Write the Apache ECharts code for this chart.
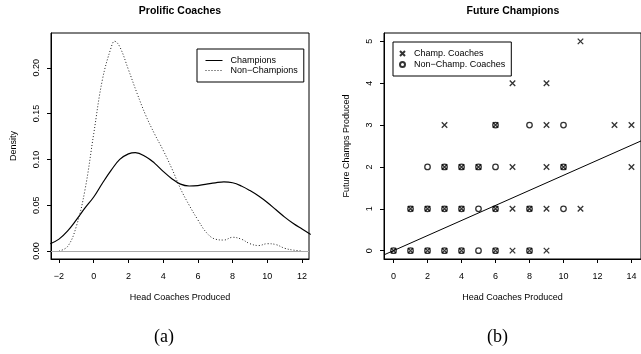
<!DOCTYPE html>
<html>
<head>
<meta charset="utf-8">
<script src="https://cdn.jsdelivr.net/npm/echarts@6/dist/echarts.min.js"></script>
<style>html,body{margin:0;padding:0;background:#fff}#c{width:641px;height:354px}</style>
</head>
<body>
<div id="c"></div>
<script>
// ---- Panel (a): kernel density estimates ----
const densChampX = [-2.5,-2,-1.5,-1,-0.5,0,0.5,1,1.5,2,2.4,3,3.5,4,4.5,5,5.5,6,6.5,7,7.5,8,8.5,9,9.5,10,10.5,11,11.5,12,12.5];
const densChampY = [0.008,0.013,0.022,0.034,0.047,0.059,0.074,0.088,0.100,0.106,0.1075,0.103,0.096,0.087,0.079,0.073,0.071,0.0715,0.073,0.0745,0.0755,0.0745,0.071,0.066,0.060,0.053,0.045,0.037,0.030,0.024,0.018];
const densNonX = [-2,-1.5,-1,-0.5,0,0.5,1,1.2,1.5,2,2.5,3,3.5,4,4.5,5,5.5,6,6.5,7,7.5,8,8.5,9,9.5,10,10.5,11,11.5,12];
const densNonY = [0.000,0.005,0.027,0.067,0.128,0.187,0.222,0.229,0.223,0.198,0.172,0.148,0.128,0.110,0.090,0.068,0.050,0.034,0.020,0.013,0.012,0.015,0.013,0.008,0.006,0.008,0.007,0.003,0.001,0.000];
const densXTicks = [-2,0,2,4,6,8,10,12];
const densYTicks = [0,0.05,0.10,0.15,0.20];

// ---- Panel (b): coaches scatter ----
const champCoachX = [0,1,2,3,4,6,7,8,9, 1,2,3,4,6,7,8,9,11, 3,4,5,7,9,10,14, 3,6,9,13,14, 7,9, 11];
const champCoachY = [0,0,0,0,0,0,0,0,0, 1,1,1,1,1,1,1,1,1, 2,2,2,2,2,2,2, 3,3,3,3,3, 4,4, 5];
const nonChampCoachX = [0,1,2,3,4,5,6,8, 1,2,3,4,5,6,8,10, 2,3,4,5,6,10, 6,8,10];
const nonChampCoachY = [0,0,0,0,0,0,0,0, 1,1,1,1,1,1,1,1, 2,2,2,2,2,2, 3,3,3];
const regCoef = [0, 0.18]; // intercept, slope
const scatXTicks = [0,2,4,6,8,10,12,14];
const scatYTicks = [0,1,2,3,4,5];

const FONT = 'Liberation Sans';
const zip = (xs, ys) => xs.map((x, i) => [x, ys[i]]);
const fmtMinus = v => String(v).replace('-', '\u2212');

const ax = {
  xA: [-2.46, 12.40], yA: [-0.0087, 0.238],
  xB: [-0.56, 14.56], yB: [-0.2, 5.2]
};

function xAxisCfg(gi, range, ticks) {
  return {
    type: 'value', gridIndex: gi, min: range[0], max: range[1],
    name: 'Head Coaches Produced', nameLocation: 'middle', nameGap: 34,
    nameTextStyle: {fontFamily: FONT, fontSize: 9, color: '#000'},
    axisLine: {show: true, onZero: false, lineStyle: {color: '#000', width: 1}},
    axisTick: {show: true, length: 4, customValues: ticks, lineStyle: {color: '#000'}},
    axisLabel: {show: true, customValues: ticks, margin: 13, fontFamily: FONT, fontSize: 9, color: '#000', formatter: fmtMinus},
    splitLine: {show: false}
  };
}
function yAxisCfg(gi, range, ticks, name, fmt) {
  return {
    type: 'value', gridIndex: gi, min: range[0], max: range[1],
    name: name, nameLocation: 'middle', nameGap: 33, nameRotate: 90,
    nameTextStyle: {fontFamily: FONT, fontSize: 9, color: '#000'},
    axisLine: {show: true, onZero: false, lineStyle: {color: '#000', width: 1}},
    axisTick: {show: true, length: 4, customValues: ticks, lineStyle: {color: '#000'}},
    axisLabel: {show: true, customValues: ticks, rotate: 90, margin: 10, fontFamily: FONT, fontSize: 9, color: '#000', formatter: fmt},
    splitLine: {show: false}
  };
}

const crossPath = 'path://M0,0L10,10M10,0L0,10';
const regLine = [ax.xB[0], ax.xB[1]].map(x => [x, regCoef[0] + regCoef[1] * x]);

const chart = echarts.init(document.getElementById('c'), null, {renderer: 'canvas'});
chart.setOption({
  animation: false,
  backgroundColor: '#fff',
  title: [
    {text: 'Prolific Coaches', left: 180, top: 6, textAlign: 'center', padding: 0,
     textStyle: {fontFamily: FONT, fontSize: 10.5, fontWeight: 'bold', color: '#000'}},
    {text: 'Future Champions', left: 513, top: 6, textAlign: 'center', padding: 0,
     textStyle: {fontFamily: FONT, fontSize: 10.5, fontWeight: 'bold', color: '#000'}}
  ],
  grid: [
    {left: 51, top: 33, width: 258, height: 226, show: true, borderColor: '#000', borderWidth: 1, containLabel: false},
    {left: 384, top: 33, width: 259, height: 226, show: true, borderColor: '#000', borderWidth: 1, containLabel: false}
  ],
  xAxis: [xAxisCfg(0, ax.xA, densXTicks), xAxisCfg(1, ax.xB, scatXTicks)],
  yAxis: [
    yAxisCfg(0, ax.yA, densYTicks, 'Density', v => v.toFixed(2)),
    yAxisCfg(1, ax.yB, scatYTicks, 'Future Champs Produced', v => String(v))
  ],
  legend: [
    {left: 197, top: 49, orient: 'vertical', padding: [7, 6, 7, 8], itemGap: 1,
     itemWidth: 17, itemHeight: 8, borderColor: '#000', borderWidth: 1,
     itemStyle: {opacity: 0}, lineStyle: {width: 1},
     textStyle: {fontFamily: FONT, fontSize: 9, color: '#000', padding: [0, 0, 0, 3]},
     data: ['Champions', 'Non\u2212Champions']},
    {left: 393, top: 42, orient: 'vertical', padding: [7, 6, 7, 6], itemGap: 2,
     itemWidth: 5, itemHeight: 5, borderColor: '#000', borderWidth: 1,
     textStyle: {fontFamily: FONT, fontSize: 9, color: '#000', padding: [0, 0, 0, 4]},
     data: ['Champ. Coaches', 'Non\u2212Champ. Coaches']}
  ],
  series: [
    {name: 'Champions', type: 'line', xAxisIndex: 0, yAxisIndex: 0, data: zip(densChampX, densChampY),
     smooth: 0.4, showSymbol: false, symbol: 'none', clip: true,
     lineStyle: {color: '#000', width: 1.2, type: 'solid'}, itemStyle: {color: '#000'},
     markLine: {silent: true, symbol: 'none', label: {show: false},
       lineStyle: {color: '#aaa', width: 1, type: 'solid'}, data: [{yAxis: 0}]}},
    {name: 'Non\u2212Champions', type: 'line', xAxisIndex: 0, yAxisIndex: 0, data: zip(densNonX, densNonY),
     smooth: 0.4, showSymbol: false, symbol: 'none', clip: true,
     lineStyle: {color: '#222', width: 1, type: [1, 2]}, itemStyle: {color: '#222'}},
    {name: 'Champ. Coaches', type: 'scatter', xAxisIndex: 1, yAxisIndex: 1, data: zip(champCoachX, champCoachY),
     symbol: crossPath, symbolSize: 5.5,
     itemStyle: {color: 'transparent', borderColor: '#000', borderWidth: 1.3}},
    {name: 'Non\u2212Champ. Coaches', type: 'scatter', xAxisIndex: 1, yAxisIndex: 1, data: zip(nonChampCoachX, nonChampCoachY),
     symbol: 'circle', symbolSize: 5.5,
     itemStyle: {color: 'transparent', borderColor: '#000', borderWidth: 1.3}},
    {name: 'fit', type: 'line', xAxisIndex: 1, yAxisIndex: 1, data: regLine,
     showSymbol: false, symbol: 'none', clip: true, lineStyle: {color: '#000', width: 1}}
  ],
  graphic: [
    {type: 'text', left: 154, top: 328, style: {text: '(a)', font: '18px "Liberation Serif"', fill: '#000'}},
    {type: 'text', left: 487, top: 328, style: {text: '(b)', font: '18px "Liberation Serif"', fill: '#000'}}
  ]
});
</script>
</body>
</html>
